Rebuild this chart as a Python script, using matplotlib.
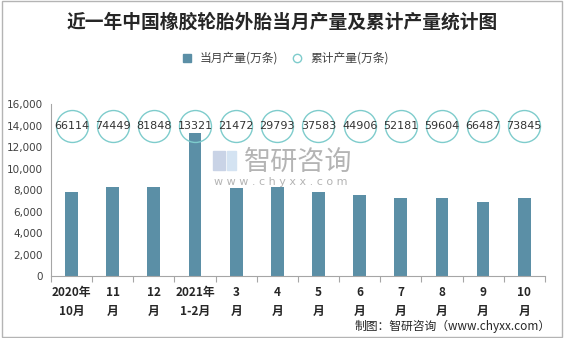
import numpy as np
import matplotlib.pyplot as plt
from matplotlib.patches import Rectangle
from matplotlib.lines import Line2D

plt.rcParams['font.family'] = ['Noto Sans CJK SC', 'DejaVu Sans']

# data
months = ['2020年\n10月', '11\n月', '12\n月', '2021年\n1-2月', '3\n月', '4\n月',
          '5\n月', '6\n月', '7\n月', '8\n月', '9\n月', '10\n月']
monthly_output = [7846, 8305, 8250, 13321, 8215, 8305, 7815, 7570, 7235, 7290, 6925, 7290]
cumulative_output = [66114, 74449, 81848, 13321, 21472, 29793, 37583, 44906, 52181, 59604, 66487, 73845]
y_ticks = [0, 2000, 4000, 6000, 8000, 10000, 12000, 14000, 16000]

bar_color = '#5b8fa6'
ring_color = '#7ecccc'
axis_color = '#a6a6a6'
mark_color = '#b4b4b4'

fig = plt.figure(figsize=(5.64, 3.38), dpi=100)
fig.patches.append(Rectangle((0.003, 0.004), 0.994, 0.992, transform=fig.transFigure,
                             fill=False, edgecolor='#b4b4b4', linewidth=1.0))

# watermark (behind the plot)
fig.patches.append(Rectangle((0.377, 0.497), 0.022, 0.055, transform=fig.transFigure,
                             color='#c9d3e6', zorder=0))
fig.patches.append(Rectangle((0.403, 0.497), 0.016, 0.055, transform=fig.transFigure,
                             color='#d4e3f2', zorder=0))
fig.text(0.528, 0.521, '智研咨询', fontsize=19.5, color=mark_color, ha='center', va='center', zorder=0)
fig.text(0.498, 0.461, 'w w w . c h y x x . c o m', fontsize=8, color=mark_color,
         ha='center', va='center', family='DejaVu Sans', zorder=0)

ax = fig.add_axes([0.0904, 0.1834, 0.8756, 0.5086])
ax.patch.set_alpha(0)
x = np.arange(len(months))

ax.bar(x, monthly_output, width=0.31, color=bar_color, zorder=2)

# cumulative values shown as rings with the number inside
ring_y = [14000] * len(cumulative_output)
ax.plot(x, ring_y, linestyle='none', marker='o', markersize=23,
        markerfacecolor='none', markeredgecolor=ring_color, markeredgewidth=1.0, zorder=3)
for xi, val in zip(x, cumulative_output):
    ax.text(xi, 14000, str(val), ha='center', va='center', fontsize=8,
            color='#333333', family='DejaVu Sans', zorder=4)

ax.set_xlim(-0.5, len(months) - 0.5)
ax.set_ylim(0, 16000)
ax.set_yticks(y_ticks)
ax.set_yticklabels([f'{v:,}' for v in y_ticks], fontsize=7.5, color='#404040',
                   family='DejaVu Sans')
ax.tick_params(axis='y', length=0, pad=6)

ax.set_xticks(x)
ax.set_xticklabels(months, fontsize=8.5, fontweight='bold', color='#262626', linespacing=1.6)
ax.set_xticks(np.arange(-0.5, len(months)), minor=True)
ax.tick_params(axis='x', which='major', length=0, pad=7)
ax.tick_params(axis='x', which='minor', length=4, color=axis_color, width=0.8)

for side in ['top', 'right']:
    ax.spines[side].set_visible(False)
ax.spines['left'].set_color(axis_color)
ax.spines['bottom'].set_color(axis_color)
ax.spines['left'].set_linewidth(0.8)
ax.spines['bottom'].set_linewidth(0.8)

fig.text(0.5, 0.935, '近一年中国橡胶轮胎外胎当月产量及累计产量统计图', ha='center', va='center',
         fontsize=13.5, fontweight='bold', color='#262626')

handles = [Line2D([], [], linestyle='none', marker='s', markersize=6, color=bar_color),
           Line2D([], [], linestyle='none', marker='o', markersize=6, markerfacecolor='none',
                  markeredgecolor=ring_color, markeredgewidth=1.0)]
fig.legend(handles, ['当月产量(万条)', '累计产量(万条)'], loc='center', bbox_to_anchor=(0.5, 0.828),
           ncol=2, frameon=False, fontsize=8.5, handletextpad=0.1, columnspacing=0.6,
           labelcolor='#404040')

fig.text(0.976, 0.035, '制图：智研咨询（www.chyxx.com）', ha='right', va='center',
         fontsize=8.5, color='#262626')

fig.savefig('out.png', dpi=100)
